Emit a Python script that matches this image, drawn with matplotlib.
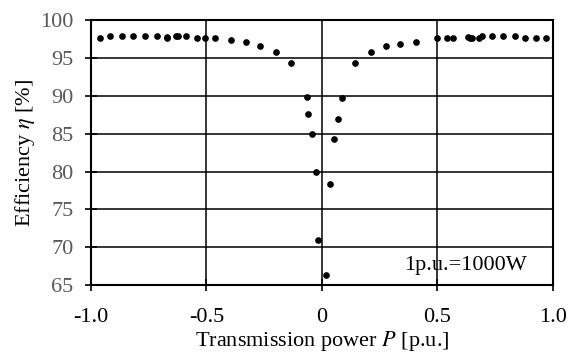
import matplotlib
matplotlib.use("Agg")
import matplotlib.pyplot as plt

# measured points: transmission power [p.u.] vs efficiency [%]
power = [-0.961, -0.918, -0.867, -0.817, -0.766, -0.716, -0.672, -0.672,
         -0.632, -0.622, -0.589, -0.540, -0.505, -0.463, -0.395, -0.329,
         -0.270, -0.200, -0.135, -0.066, -0.059, -0.042, -0.025, -0.016,
         0.017, 0.033, 0.051, 0.068, 0.085, 0.144, 0.211, 0.278, 0.338,
         0.406, 0.497, 0.540, 0.566, 0.633, 0.641, 0.648, 0.681, 0.691,
         0.735, 0.784, 0.835, 0.877, 0.928, 0.970]
efficiency = [97.6, 97.9, 97.9, 97.9, 97.9, 97.9, 97.8, 97.6,
              97.9, 97.9, 97.9, 97.6, 97.6, 97.6, 97.4, 97.1,
              96.6, 95.8, 94.3, 89.9, 87.6, 85.0, 79.9, 70.9,
              66.3, 78.4, 84.3, 86.9, 89.7, 94.3, 95.8, 96.6, 96.8,
              97.1, 97.6, 97.6, 97.6, 97.8, 97.6, 97.6, 97.6, 97.9,
              97.9, 97.9, 97.9, 97.6, 97.6, 97.6]

xticks = [-1.0, -0.5, 0, 0.5, 1.0]
xtick_labels = ["-1.0", "-0.5", "0", "0.5", "1.0"]
yticks = [65, 70, 75, 80, 85, 90, 95, 100]

plt.rcParams['font.family'] = ['Liberation Serif', 'DejaVu Serif']
plt.rcParams['mathtext.fontset'] = 'stix'
fs = 16

fig = plt.figure(figsize=(5.79, 3.52), dpi=100)
ax = fig.add_axes([0.157, 0.19, 0.798, 0.753])

ax.plot(power, efficiency, 'o', color='black', markersize=3.8, zorder=3)

ax.set_xlim(-1.0, 1.0)
ax.set_ylim(65, 100)
ax.set_xticks(xticks)
ax.set_xticklabels(xtick_labels)
ax.set_yticks(yticks)
ax.grid(True, color='black', linewidth=1.1)
for s in ax.spines.values():
    s.set_linewidth(1.5)
ax.tick_params(axis='both', direction='inout', length=9, width=1.2, labelsize=fs)
ax.tick_params(axis='y', labelcolor='#595959', pad=8)
ax.tick_params(axis='x', pad=12)

ax.set_xlabel("Transmission power $P$ [p.u.]", fontsize=fs, va='baseline')
ax.xaxis.set_label_coords(0.5, -0.228)
ax.set_ylabel("Efficiency $\\eta$ [%]", fontsize=fs, va='center')
ax.yaxis.set_label_coords(-0.142, 0.5)
ax.text(0.623, 67.6, "1p.u.=1000W", fontsize=fs, ha='center', va='center')

fig.savefig("out.png", dpi=100)
